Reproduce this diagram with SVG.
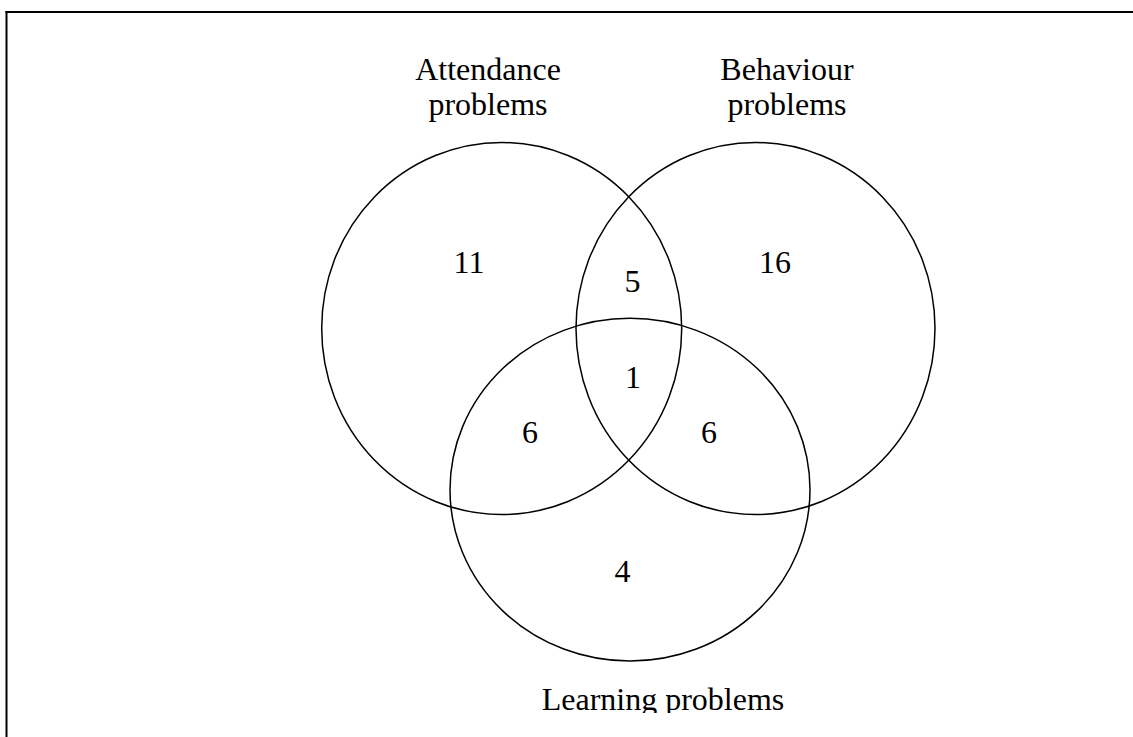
<svg xmlns="http://www.w3.org/2000/svg" width="1133" height="737" viewBox="0 0 1133 737">
  <style>
    .set { fill: none; stroke: #000; stroke-width: 1.5; }
    .frame { stroke: #000; stroke-width: 2; fill: none; }
    text { font-family: "Liberation Serif", "Times New Roman", serif; font-size: 32px; fill: #000; text-anchor: middle; }
  </style>
  <defs>
    <clipPath id="bottomClip"><rect x="0" y="0" width="1133" height="713"/></clipPath>
  </defs>
  <rect x="0" y="0" width="1133" height="737" fill="#fff"/>
  <g id="frame">
    <line class="frame" x1="5.5" y1="12" x2="1133" y2="12"/>
    <line class="frame" x1="6.5" y1="11" x2="6.5" y2="737"/>
  </g>
  <g id="attendance">
    <ellipse class="set" cx="501.7" cy="328.5" rx="180" ry="186"/>
    <text x="488" y="80">Attendance</text>
    <text x="488" y="115">problems</text>
  </g>
  <g id="behaviour">
    <ellipse class="set" cx="755.5" cy="328.5" rx="179.5" ry="186"/>
    <text x="787" y="80">Behaviour</text>
    <text x="787" y="115">problems</text>
  </g>
  <g id="learning">
    <ellipse class="set" cx="630" cy="489.7" rx="180" ry="171.4"/>
    <text x="663" y="710" clip-path="url(#bottomClip)">Learning problems</text>
  </g>
  <g id="counts">
    <text x="469" y="273">11</text>
    <text x="632.5" y="291.5">5</text>
    <text x="775" y="273">16</text>
    <text x="633" y="388">1</text>
    <text x="530" y="443.3">6</text>
    <text x="709" y="443.3">6</text>
    <text x="622.5" y="581.5">4</text>
  </g>
  <g id="connectors"></g>
</svg>
